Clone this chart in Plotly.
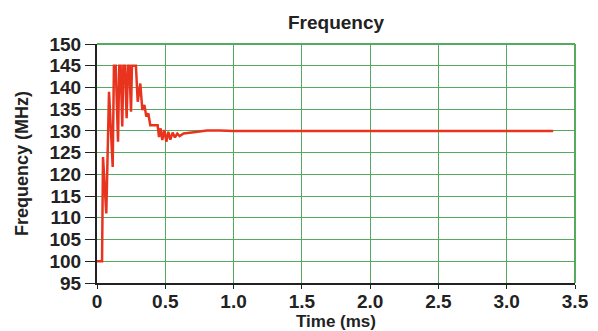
import plotly.graph_objects as go

# Time (ms) and frequency (MHz)
time_ms = [0.0, 0.037, 0.044, 0.068, 0.088, 0.115, 0.124, 0.137, 0.154, 0.163,
           0.173, 0.185, 0.193, 0.205, 0.217, 0.227, 0.237, 0.249, 0.256, 0.285,
           0.298, 0.317, 0.332, 0.347, 0.361, 0.376, 0.390, 0.444, 0.454, 0.466,
           0.478, 0.493, 0.508, 0.522, 0.537, 0.554, 0.571, 0.588, 0.605, 0.634,
           0.708, 0.805, 0.9, 1.0, 3.34]
freq_mhz = [100.0, 100.0, 124.0, 111.0, 139.0, 121.7, 145.0, 145.0, 127.5, 145.0,
            145.0, 131.0, 145.0, 145.0, 132.9, 145.0, 145.0, 134.4, 145.0, 145.0,
            136.7, 140.9, 134.8, 136.0, 133.3, 134.0, 131.3, 131.3, 128.6, 130.6,
            127.9, 130.2, 127.5, 129.8, 128.0, 129.6, 128.5, 129.4, 128.8, 129.4,
            129.7, 130.1, 130.1, 130.0, 130.0]

x_ticks = [0, 0.5, 1.0, 1.5, 2.0, 2.5, 3.0, 3.5]
x_tick_labels = ["0", "0.5", "1.0", "1.5", "2.0", "2.5", "3.0", "3.5"]
y_ticks = list(range(95, 151, 5))

GRID = "rgb(85,170,95)"
FONT = "Liberation Sans"
W, H = 590, 323  # page body adds an 8px offset

fig = go.Figure()
fig.add_trace(go.Scatter(x=time_ms, y=freq_mhz, mode="lines",
                         line=dict(color="rgb(232,52,30)", width=2.5),
                         showlegend=False, hoverinfo="skip"))

fig.update_layout(
    width=W, height=H,
    margin=dict(l=89, r=23, t=36, b=48, autoexpand=False),
    paper_bgcolor="white", plot_bgcolor="white",
    title=dict(text="Frequency", x=0.5, xref="paper", y=1 - 14 / H, yref="container",
               xanchor="center", yanchor="middle",
               font=dict(family=FONT, size=19, color="#222", weight="bold")),
    font=dict(family=FONT, color="#222"),
    xaxis=dict(range=[0, 3.5], tickvals=x_ticks, ticktext=x_tick_labels,
               automargin=False,
               showgrid=True, gridcolor=GRID, gridwidth=1,
               showline=True, linecolor="#222", linewidth=2,
               ticks="outside", ticklen=4, tickcolor="#222", tickwidth=1,
               ticklabelstandoff=-4,
               tickfont=dict(family=FONT, size=19, weight="bold", color="#222"),
               title=dict(text="Time (ms)", standoff=0,
                          font=dict(family=FONT, size=17, weight="bold", color="#222")),
               zeroline=False),
    yaxis=dict(range=[95, 150], tickvals=y_ticks,
               automargin=False,
               showgrid=True, gridcolor=GRID, gridwidth=1,
               showline=True, linecolor="#222", linewidth=2,
               ticks="outside", ticklen=10, tickcolor="#222", tickwidth=1,
               tickfont=dict(family=FONT, size=19, weight="bold", color="#222"),
               title=dict(text="Frequency (MHz)", standoff=16,
                          font=dict(family=FONT, size=18, weight="bold", color="#222")),
               zeroline=False),
    shapes=[
        dict(type="line", xref="paper", yref="paper", x0=0, x1=1, y0=1, y1=1,
             line=dict(color=GRID, width=2), layer="below"),
        dict(type="line", xref="paper", yref="paper", x0=1, x1=1, y0=0, y1=1,
             line=dict(color=GRID, width=2), layer="below"),
    ],
)

fig.write_html("out.html")
